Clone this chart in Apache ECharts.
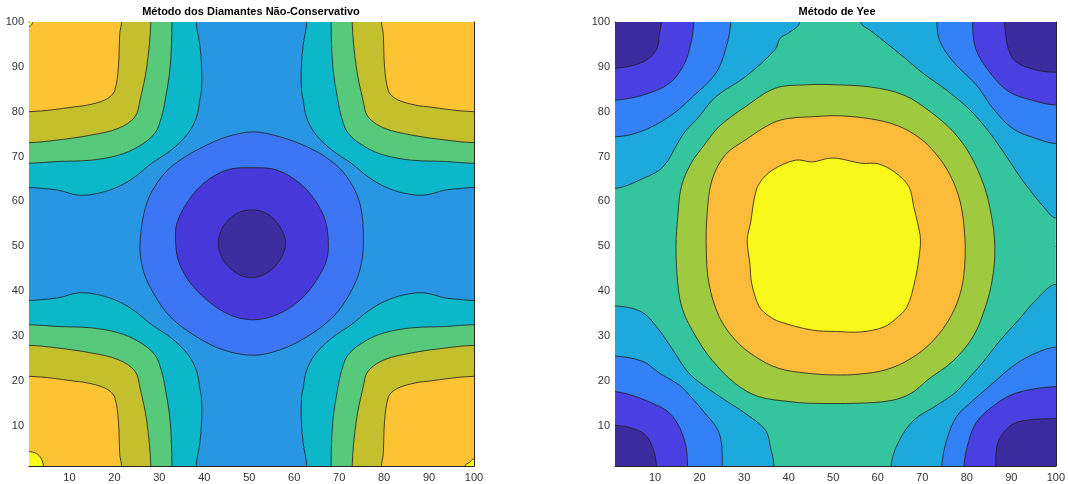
<!DOCTYPE html>
<html>
<head>
<meta charset="utf-8">
<script src="https://cdn.jsdelivr.net/npm/echarts@6/dist/echarts.min.js"></script>
<style>
  html, body { margin: 0; padding: 0; background: #fff; }
  #container { width: 1068px; height: 484px; }
</style>
</head>
<body>
<div id="container"></div>
<script>
var titles = ['Método dos Diamantes Não-Conservativo', 'Método de Yee'];
var tickValues = [10, 20, 30, 40, 50, 60, 70, 80, 90, 100];

// ---- Método dos Diamantes: contour lines (top-left corner, top edge -> left edge)
var diamTeal = [[38.2,100],[39,95],[39.4,90],[39.4,85],[39,82.6],[38.3,78.9],[36.4,75.2],[32.7,71.5],[28.3,68.5],[24.6,65.5],[20.9,63.3],[16.4,61.8],[12,61.4],[7.5,62.5],[3.8,62.9],[1,63.1]];
var diamGreen = [[32.8,100],[32.4,90],[31.3,82.6],[30.5,78.9],[29,75.2],[25.3,72.2],[20.9,70.3],[14.9,69.2],[7.5,68.9],[1,68.5]];
var diamOlive = [[28.1,100],[27.2,90],[25.7,82.6],[24.6,78.9],[20.9,76.3],[14.9,74.8],[7.5,73.7],[1,73.1]];
var diamOrange = [[21.6,100],[21.2,97.5],[20.9,90],[20.1,84.8],[19,83.3],[16.8,82.2],[13.1,81.3],[11.2,81.1],[6,80.4],[1,80]];
// small yellow patches in the corners
var diamYellowBL = [[1,4.2],[2.6,3.8],[3.7,2.7],[4.2,1]];
var diamYellowBR = [[98,1],[99,1.8],[100,2.6]];
var diamYellowTL = [[1,99],[1.8,100]];
// closed contours round the centre
var diamRing2 = [[50.9,75.5],[45,74.4],[39.8,72.2],[34.6,69.2],[30.5,65.5],[27.2,59.6],[25.7,50.6],[26.4,44.7],[28.7,39.5],[32.4,34.3],[38.3,29.8],[44.2,26.9],[50.9,25.7],[56.8,26.9],[62.8,29.8],[68.7,34.3],[72.4,39.5],[74.6,44.7],[75.4,50.6],[74.6,59.6],[71.7,65.5],[68,69.2],[62.8,72.2],[56.8,74.4]];
var diamRing1 = [[50.5,67.5],[45,67],[39.8,64],[36.1,59.6],[33.9,55.1],[33.6,51.4],[34.2,46.9],[36.4,42.5],[39.8,38.7],[45,35],[50.5,33.6],[56.1,34.7],[61.3,38],[65,42.5],[67.2,46.9],[67.6,50.7],[66.9,55.8],[64.6,60.3],[61.3,64],[56.1,67]];
var diamRing0 = [[50.5,58.1],[47.2,57.3],[44.2,54.4],[43.1,50.7],[44.2,46.9],[47.2,44],[50.5,43],[53.9,44],[56.8,46.9],[58.1,50.7],[56.8,54.4],[53.9,57.3]];
var diamColors = ['#3d2c9e', '#4638d9', '#3d76f5', '#2896e3', '#0bb7c8', '#56c97a', '#c4bf2c', '#fcc433', '#f8f81a'];

// ---- Método de Yee: corner contours, outermost level first
var yeeTopLeft = [
  [[42.5,100],[39.9,97.5],[38.1,96.4],[36.9,93.8],[30.3,87.8],[23.6,83.3],[19.2,78.1],[17,75.9],[15.5,73.7],[11.8,67.7],[7.3,65.1],[1,62.9]],
  [[27,100],[25.8,93.8],[23.6,88.5],[18.4,83.3],[13.2,78.9],[6.6,75.5],[1,74.4]],
  [[18.7,100],[17.7,93.8],[16.2,90],[13.2,86.3],[7.3,83.7],[1,82.6]],
  [[11.4,100],[11,97.5],[10.3,93.8],[7.3,91.1],[1,89.7]]
];
var yeeTopRight = [
  [[56.2,100],[58.5,98],[62.2,95.1],[65.9,92.1],[70.4,88.4],[75.6,84.7],[80.8,80.3],[85.3,75.1],[89,69.9],[92,65.4],[95,61.5],[97.5,58.5],[100,56.3]],
  [[73.3,100],[74,95.6],[77,91.1],[82.2,85.9],[85.9,80.7],[90.4,76.2],[95.6,74],[100,72.9]],
  [[81.3,100],[82,94.1],[85,89],[89.4,84.5],[95.6,82.3],[100,81.5]],
  [[88.5,100],[89.3,94.1],[91.1,91.1],[95.6,89.3],[100,88.8]]
];
var yeeBottomRight = [
  [[63,1],[64.9,6.8],[68.2,11.3],[72.7,14.2],[77.2,17.2],[80.1,20.2],[83.5,24],[87.5,29],[92,34],[96,38.5],[100,41.5]],
  [[74.4,1],[75.5,6.8],[77.7,12],[81.5,15.7],[86.7,20.2],[90,23],[94,25.5],[100,27.5]],
  [[79.4,1],[80.1,5.3],[82,10.5],[85.7,14.2],[90.9,17.2],[100,18.7]],
  [[86.5,1],[86.9,6],[88.7,9],[91.7,10.9],[100,11.6]]
];
var yeeBottomLeft = [
  [[36.7,1],[35.9,5.3],[34.8,9],[30.3,12.7],[25.1,16.1],[19.5,20],[17,22.4],[14,26.9],[10.3,32.1],[6.9,35.4],[1,36.7]],
  [[25.1,1],[24.4,8.3],[20.6,13.5],[17.5,17],[15.5,19],[11,21.7],[7.3,24.3],[1,25.5]],
  [[17.3,1],[16.6,6.8],[14,12],[10.3,14.6],[1,17.6]],
  [[10.3,1],[9.1,6],[6.9,8.6],[1,10.1]]
];
var yeeRing5 = [[50.5,86],[58.4,85.5],[65.9,83.7],[71.8,80],[77,75.5],[80.8,70.3],[83.8,63.7],[85.5,57],[86.3,50],[85.8,43],[84.2,36.5],[81.5,30],[77,24.5],[71.2,20.2],[67.5,17.2],[63,15.6],[55.6,15],[44.4,15],[40.7,15.3],[33.2,16.5],[28,19.4],[22.8,24.6],[19.2,29.8],[16.2,35.8],[15.1,41.7],[14.7,50],[15.1,56.6],[15.9,63.3],[18.1,68.5],[21,72.5],[24.4,76.7],[30.3,81.1],[36.9,85.2],[44,86]];
var yeeRing6 = [[51,79.1],[58.4,78.4],[64.4,76.9],[69.6,74],[73.3,70.3],[76.3,65.8],[78.5,60],[79.5,53],[79.6,47],[78.8,40.5],[76.5,34.5],[72.5,29],[67.5,25],[62,22.5],[56,21.5],[50.5,21.3],[44,21.7],[37.7,22.8],[32.5,25.4],[28,29.1],[24.4,34.3],[22.1,41.7],[21.5,49.2],[21.7,57.3],[22.8,64.8],[25.8,70.4],[30.3,73.7],[36.2,77.4],[40,78.5],[45.9,78.9]];
var yeeRing7 = [[48.9,69.6],[51,69.6],[56.3,68.5],[60,68.4],[63.7,66.6],[67,63.3],[68.1,58.8],[69,55],[69.6,51.4],[69.2,47],[68.4,42.5],[66.6,36.5],[64,33.8],[61.4,32],[56.3,30.9],[50.5,31],[45.3,31.3],[37.9,33.2],[35.5,34.5],[33.4,36.5],[31.7,41.7],[31.3,46],[30.7,51.4],[31.5,55.5],[32.3,60.7],[33.4,64],[36.4,67],[41.6,69.2],[45.3,68.8]];
var yeeColors = ['#3c2b9f', '#4a3fe0', '#3380f7', '#1ea9dd', '#34c59f', '#9fca40', '#fdbb3a', '#f8f81a'];

var fullBox = [[1,1],[100,1],[100,100],[1,100]];

// mirror a top-left contour into another corner
function flip(curve, fx, fy) {
  return curve.map(function (p) { return [fx ? 101 - p[0] : p[0], fy ? 101 - p[1] : p[1]]; });
}
// push an end point that sits on the frame straight out of the plot (clipped away later)
function outward(p) {
  if (p[0] <= 1) return [-15, p[1]];
  if (p[0] >= 100) return [116, p[1]];
  if (p[1] <= 1) return [p[0], -15];
  return [p[0], 116];
}
// close a corner contour through the plot corner it belongs to
function cornerShape(curve, cx, cy) {
  var far = [cx <= 1 ? -15 : 116, cy <= 1 ? -15 : 116];
  return [outward(curve[0])].concat(curve, [outward(curve[curve.length - 1]), far]);
}

// ---- build the fill layers
var diamLayers = [{ pts: fullBox, color: diamColors[3], edge: false }];
[diamTeal, diamGreen, diamOlive, diamOrange].forEach(function (curve, k) {
  [[0,0],[1,0],[0,1],[1,1]].forEach(function (f) {
    var pts = cornerShape(flip(curve, f[0], f[1]), f[0] ? 100 : 1, f[1] ? 1 : 100);
    diamLayers.push({ pts: pts, color: diamColors[4 + k], edge: true });
  });
});
diamLayers.push({ pts: cornerShape(diamYellowBL, 1, 1), color: diamColors[8], edge: true });
diamLayers.push({ pts: cornerShape(diamYellowBR, 100, 1), color: diamColors[8], edge: true });
diamLayers.push({ pts: cornerShape(diamYellowTL, 1, 100), color: diamColors[8], edge: true });
diamLayers.push({ pts: diamRing2, color: diamColors[2], edge: true });
diamLayers.push({ pts: diamRing1, color: diamColors[1], edge: true });
diamLayers.push({ pts: diamRing0, color: diamColors[0], edge: true });

var yeeLayers = [{ pts: fullBox, color: yeeColors[4], edge: false }];
for (var k = 0; k < 4; k++) {
  yeeLayers.push({ pts: cornerShape(yeeTopLeft[k], 1, 100), color: yeeColors[3 - k], edge: true });
  yeeLayers.push({ pts: cornerShape(yeeTopRight[k], 100, 100), color: yeeColors[3 - k], edge: true });
  yeeLayers.push({ pts: cornerShape(yeeBottomRight[k], 100, 1), color: yeeColors[3 - k], edge: true });
  yeeLayers.push({ pts: cornerShape(yeeBottomLeft[k], 1, 1), color: yeeColors[3 - k], edge: true });
}
yeeLayers.push({ pts: yeeRing5, color: yeeColors[5], edge: true });
yeeLayers.push({ pts: yeeRing6, color: yeeColors[6], edge: true });
yeeLayers.push({ pts: yeeRing7, color: yeeColors[7], edge: true });

var axisColor = '#262626';
var labelFont = 'Liberation Sans, Arial, sans-serif';

function makeX(gi, pos) {
  return {
    gridIndex: gi, type: 'value', min: 1, max: 100, position: pos,
    axisLine: { show: true, onZero: false, lineStyle: { color: axisColor, width: 1 } },
    axisTick: { show: true, inside: true, length: 4, customValues: tickValues, lineStyle: { color: axisColor } },
    axisLabel: { show: pos === 'bottom', customValues: tickValues, color: '#333', fontSize: 11, margin: 6, fontFamily: labelFont },
    splitLine: { show: false }
  };
}
function makeY(gi, pos) {
  return {
    gridIndex: gi, type: 'value', min: 1, max: 100, position: pos,
    axisLine: { show: true, onZero: false, lineStyle: { color: axisColor, width: 1 } },
    axisTick: { show: true, inside: true, length: 4, customValues: tickValues, lineStyle: { color: axisColor } },
    axisLabel: { show: pos === 'left', customValues: tickValues, color: '#333', fontSize: 11, margin: 5, fontFamily: labelFont },
    splitLine: { show: false }
  };
}

function contourSeries(layers, idx) {
  return {
    type: 'custom', xAxisIndex: idx * 2, yAxisIndex: idx * 2, silent: true, clip: true,
    data: layers.map(function () { return [50, 50]; }),
    renderItem: function (params, api) {
      var l = layers[params.dataIndex];
      return {
        type: 'polygon',
        shape: { points: l.pts.map(function (p) { return api.coord(p); }), smooth: l.edge ? 0.35 : 0 },
        style: { fill: l.color, stroke: l.edge ? '#1e1e1e' : null, lineWidth: 0.8 }
      };
    }
  };
}

var dom = document.getElementById('container');
var myChart = echarts.init(dom, null, { renderer: 'canvas' });

var option = {
  animation: false,
  backgroundColor: '#fff',
  title: [
    { text: titles[0], left: 251, top: 6, textAlign: 'center', padding: 0,
      textStyle: { fontSize: 11, fontWeight: 'bold', color: '#000', fontFamily: labelFont } },
    { text: titles[1], left: 837, top: 6, textAlign: 'center', padding: 0,
      textStyle: { fontSize: 11, fontWeight: 'bold', color: '#000', fontFamily: labelFont } }
  ],
  grid: [
    { left: 29, top: 22, width: 445, height: 444 },
    { left: 615, top: 22, width: 445, height: 444 }
  ],
  xAxis: [makeX(0, 'bottom'), makeX(0, 'top'), makeX(1, 'bottom'), makeX(1, 'top')],
  yAxis: [makeY(0, 'left'), makeY(0, 'right'), makeY(1, 'left'), makeY(1, 'right')],
  series: [contourSeries(diamLayers, 0), contourSeries(yeeLayers, 1)]
};

myChart.setOption(option);
window.addEventListener('resize', myChart.resize);
</script>
</body>
</html>
